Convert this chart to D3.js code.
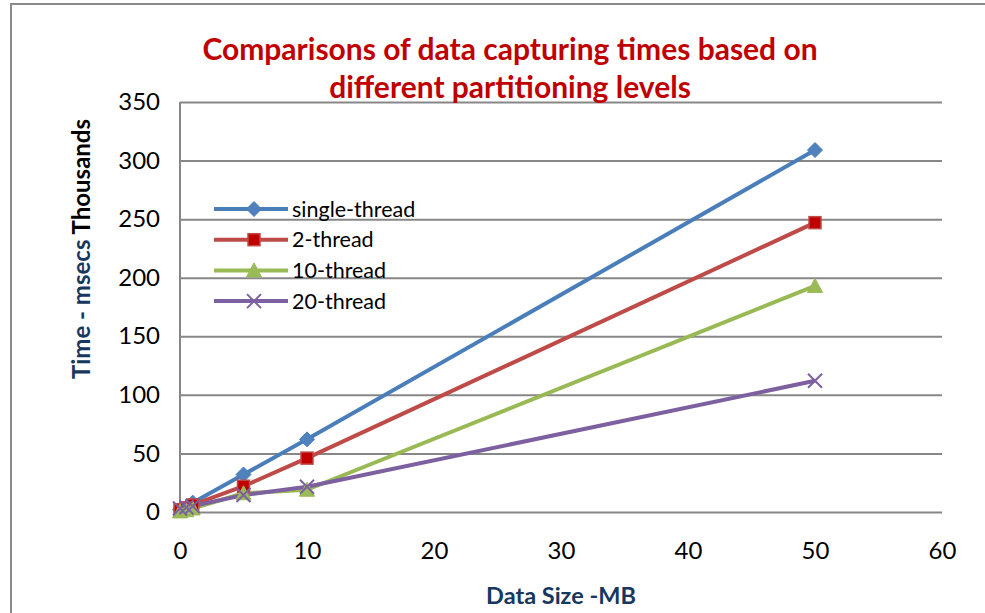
<!DOCTYPE html>
<html>
<head>
<meta charset="utf-8">
<script src="https://cdn.jsdelivr.net/npm/d3@7"></script>
<style>
  body { margin: 0; background: #fff; }
  svg { display: block; font-family: Lato, "Open Sans", sans-serif; }
</style>
</head>
<body>
<svg id="chart" width="985" height="613"></svg>
<script>
// data (time in thousands of msecs)
var sizes = [0, 0.5, 1, 5, 10, 50]
var singleThread = [2, 4, 8, 32, 62, 309]
var twoThread = [2, 3.5, 6, 22, 46, 247]
var tenThread = [0.5, 1.5, 3, 16, 19, 193]
var twentyThread = [3, 4, 5, 14.5, 21.5, 112]
var seriesNames = ["single-thread", "2-thread", "10-thread", "20-thread"]
var xTicks = [0, 10, 20, 30, 40, 50, 60]
var yTicks = [0, 50, 100, 150, 200, 250, 300, 350]

var vis = {
  "left": 180, "right": 942, "top": 102, "bottom": 512,
  "colors": ["#4A7EBB", "#BE4B48", "#98B954", "#7D60A0"],
  "markers": ["diamond", "square", "triangle", "cross"]
}

var series = [singleThread, twoThread, tenThread, twentyThread].map(function(vals, i) {
  return { name: seriesNames[i], points: vals.map(function(v, j) { return { x: sizes[j], y: v } }) }
})

var svg = d3.select("#chart")

// outer chart border (runs off the right and bottom edge)
svg.append("path")
  .attr("d", "M11,620 V4 H990")
  .attr("fill", "none")
  .attr("stroke", "#8a8a8a")
  .attr("stroke-width", 2)

var xScale = d3.scaleLinear().domain([0, 60]).range([vis.left, vis.right])
var yScale = d3.scaleLinear().domain([0, 350]).range([vis.bottom, vis.top])

// horizontal gridlines from y axis
svg.append("g")
  .attr("transform", "translate(" + vis.left + ",0)")
  .call(d3.axisLeft(yScale).tickValues(yTicks).tickSize(0).tickPadding(20))
  .call(function(g) { g.select(".domain").remove() })
  .call(function(g) {
    g.selectAll(".tick line")
      .attr("x2", vis.right - vis.left)
      .attr("stroke", "#878787")
      .attr("stroke-width", 2)
    g.selectAll(".tick text")
      .attr("font-size", 24)
      .attr("font-family", "Lato, sans-serif")
      .attr("fill", "#000")
  })

// vertical axis line
svg.append("line")
  .attr("x1", vis.left).attr("x2", vis.left)
  .attr("y1", vis.top).attr("y2", vis.bottom)
  .attr("stroke", "#878787")
  .attr("stroke-width", 2)

// x axis labels only (sit well below the zero line)
svg.append("g")
  .attr("transform", "translate(0," + vis.bottom + ")")
  .call(d3.axisBottom(xScale).tickValues(xTicks).tickSize(0).tickPadding(30))
  .call(function(g) { g.select(".domain").remove() })
  .call(function(g) {
    g.selectAll(".tick text")
      .attr("font-size", 24)
      .attr("font-family", "Lato, sans-serif")
      .attr("fill", "#000")
  })

// lines
var line = d3.line()
  .x(function(d) { return xScale(d.x) })
  .y(function(d) { return yScale(d.y) })

svg.append("g").selectAll("path")
  .data(series)
  .enter()
  .append("path")
  .attr("d", function(d) { return line(d.points) })
  .attr("fill", "none")
  .attr("stroke", function(d, i) { return vis.colors[i] })
  .attr("stroke-width", 4)
  .attr("stroke-linejoin", "round")

function drawMarker(g, kind, color) {
  if (kind == "diamond") {
    g.append("path").attr("d", "M0,-7.5 L7.5,0 L0,7.5 L-7.5,0 Z")
      .attr("fill", "#4F81BD").attr("stroke", "#4A7EBB").attr("stroke-width", 1)
  } else if (kind == "square") {
    g.append("rect").attr("x", -6).attr("y", -6).attr("width", 12).attr("height", 12)
      .attr("fill", "#C00000").attr("stroke", "#BE4B48").attr("stroke-width", 1.5)
  } else if (kind == "triangle") {
    g.append("path").attr("d", "M0,-7.5 L7.5,6.5 L-7.5,6.5 Z")
      .attr("fill", "#9BBB59").attr("stroke", "#98B954").attr("stroke-width", 1)
  } else {
    g.append("path").attr("d", "M-7,-7 L7,7 M-7,7 L7,-7")
      .attr("fill", "none").attr("stroke", color).attr("stroke-width", 2)
  }
}

series.forEach(function(s, i) {
  var grp = svg.append("g").attr("class", "markers-" + i)
  s.points.forEach(function(p) {
    var m = grp.append("g")
      .attr("transform", "translate(" + xScale(p.x) + "," + yScale(p.y) + ")")
    drawMarker(m, vis.markers[i], vis.colors[i])
  })
})

// legend
var legend = svg.append("g").attr("transform", "translate(214,209)")
seriesNames.forEach(function(name, i) {
  var row = legend.append("g").attr("transform", "translate(0," + (i * 30.7) + ")")
  row.append("line")
    .attr("x1", 0).attr("x2", 74)
    .attr("stroke", vis.colors[i])
    .attr("stroke-width", 4)
  drawMarker(row.append("g").attr("transform", "translate(40,0)"), vis.markers[i], vis.colors[i])
  row.append("text")
    .attr("x", 78).attr("y", 7.5)
    .attr("font-size", 21.5)
    .attr("fill", "#000")
    .text(name)
})

// title
var title = svg.append("text")
  .attr("text-anchor", "middle")
  .attr("font-size", 30)
  .attr("font-weight", "bold")
  .attr("fill", "#C00000")
title.append("tspan").attr("x", 510).attr("y", 60).text("Comparisons of data capturing times based on")
title.append("tspan").attr("x", 510).attr("y", 98).text("different partitioning levels")

// axis titles
svg.append("text")
  .attr("x", 561).attr("y", 604)
  .attr("text-anchor", "middle")
  .attr("font-size", 23.5)
  .attr("font-weight", "bold")
  .attr("fill", "#17375E")
  .text("Data Size -MB")

var yTitle = svg.append("text")
  .attr("transform", "translate(90,249) rotate(-90)")
  .attr("text-anchor", "middle")
  .attr("font-size", 24)
  .attr("font-weight", "bold")
yTitle.append("tspan").attr("fill", "#17375E").text("Time - msecs ")
yTitle.append("tspan").attr("fill", "#000").text("Thousands")
</script>
</body>
</html>
